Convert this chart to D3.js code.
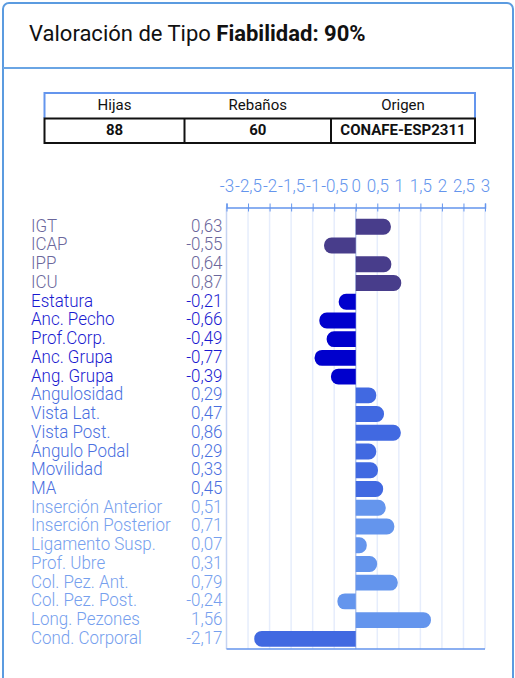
<!DOCTYPE html>
<html>
<head>
<meta charset="utf-8">
<script src="https://cdn.jsdelivr.net/npm/d3@7"></script>
<style>
  html, body { margin: 0; padding: 0; background: #fff; }
  svg { display: block; font-family: Roboto, "Noto Sans", sans-serif; }
</style>
</head>
<body>
<script>
// Data
var categories = ["IGT", "ICAP", "IPP", "ICU", "Estatura", "Anc. Pecho", "Prof.Corp.", "Anc. Grupa",
    "Ang. Grupa", "Angulosidad", "Vista Lat.", "Vista Post.", "Ángulo  Podal", "Movilidad", "MA",
    "Inserción Anterior", "Inserción Posterior", "Ligamento Susp.", "Prof. Ubre", "Col. Pez. Ant.",
    "Col. Pez. Post.", "Long. Pezones", "Cond. Corporal"];
var values = [0.63, -0.55, 0.64, 0.87, -0.21, -0.66, -0.49, -0.77, -0.39, 0.29, 0.47, 0.86, 0.29,
    0.33, 0.45, 0.51, 0.71, 0.07, 0.31, 0.79, -0.24, 1.56, -2.17];
// colour group of every row (bars)
var barGroup = [0, 0, 0, 0, 1, 1, 1, 1, 1, 2, 2, 2, 2, 2, 2, 3, 3, 3, 3, 3, 3, 3, 2];
// colour group of every row (labels)
var labelGroup = [0, 0, 0, 0, 1, 1, 1, 1, 1, 2, 2, 2, 2, 2, 2, 3, 3, 3, 3, 3, 3, 3, 3];
var groupColors = ["#483d8b", "#0000cd", "#4169e1", "#6495ed"];
var labelColors = ["#6b679c", "#1a1ad0", "#4a6fe0", "#76a0ee"];
var xTicks = [-3, -2.5, -2, -1.5, -1, -0.5, 0, 0.5, 1, 1.5, 2, 2.5, 3];

var tableHead = ["Hijas", "Rebaños", "Origen"];
var tableValues = ["88", "60", "CONAFE-ESP2311"];

var width = 515, height = 678;
var comma = function (v) { return String(v).replace(".", ","); };
var fmt2 = function (v) { return v.toFixed(2).replace(".", ","); };
var sx = 0.92; // the axis labels use a slightly narrow face
var lsx = 0.97;

var svg = d3.select("body").append("svg")
    .attr("width", width)
    .attr("height", height);

// card
svg.append("rect")
    .attr("x", 3).attr("y", 3)
    .attr("width", 510).attr("height", 720)
    .attr("rx", 6)
    .attr("fill", "#fff")
    .attr("stroke", "#5b9be0")
    .attr("stroke-width", 2);

svg.append("line")
    .attr("x1", 3).attr("x2", 513)
    .attr("y1", 68).attr("y2", 68)
    .attr("stroke", "#6aa5e4")
    .attr("stroke-width", 2);

var title = svg.append("text")
    .attr("x", 29).attr("y", 41)
    .style("font-size", "22px")
    .style("fill", "#111");
title.append("tspan").text("Valoración de Tipo ");
title.append("tspan").style("font-weight", "bold").text("Fiabilidad: 90%");

// table
var colX = [44.5, 184.5, 331, 475];
var tbl = svg.append("g");
tableHead.forEach(function (h, i) {
    tbl.append("text")
        .attr("x", (colX[i] + colX[i + 1]) / 2).attr("y", 109.5)
        .attr("text-anchor", "middle")
        .style("font-size", "15px")
        .style("fill", "#111")
        .text(h);
    tbl.append("text")
        .attr("x", (colX[i] + colX[i + 1]) / 2).attr("y", 135)
        .attr("text-anchor", "middle")
        .style("font-size", "15px")
        .style("font-weight", "bold")
        .style("fill", "#111")
        .text(tableValues[i]);
});
tbl.append("path")
    .attr("d", "M" + colX[0] + ",118 V93 H" + colX[3] + " V118")
    .attr("fill", "none")
    .attr("stroke", "#6495ed")
    .attr("stroke-width", 2);
tbl.append("rect")
    .attr("x", colX[0]).attr("y", 118.5)
    .attr("width", colX[3] - colX[0]).attr("height", 24.5)
    .attr("fill", "none")
    .attr("stroke", "#111")
    .attr("stroke-width", 2);
[colX[1], colX[2]].forEach(function (cx) {
    tbl.append("line")
        .attr("x1", cx).attr("x2", cx)
        .attr("y1", 118.5).attr("y2", 143)
        .attr("stroke", "#111")
        .attr("stroke-width", 2);
});

// chart
var plotTop = 207.5, plotBottom = 649;
var x = d3.scaleLinear().domain([-3, 3]).range([226.5, 485]);
var y = d3.scaleBand().domain(categories).range([218.8, 646.8]).paddingInner(0.15).paddingOuter(0);

// grid
svg.append("g")
    .selectAll("line")
    .data(xTicks)
    .join("line")
    .attr("x1", d => x(d)).attr("x2", d => x(d))
    .attr("y1", plotTop).attr("y2", plotBottom)
    .attr("stroke", d => d === 0 ? "#b9c9ec" : (d === -3 ? "#c6d4f2" : "#e6edfc"))
    .attr("stroke-width", 1.5);

// top axis
var axis = svg.append("g")
    .attr("transform", "translate(0," + plotTop + ")")
    .call(d3.axisTop(x).tickValues(xTicks).tickSizeInner(4).tickSizeOuter(4).tickPadding(12).tickFormat(comma));
axis.select(".domain").attr("stroke", "#6495ed").attr("stroke-width", 1.5);
axis.selectAll(".tick line").attr("stroke", "#6495ed").attr("y2", -4).attr("y1", 4);
axis.selectAll(".tick text")
    .attr("fill", "#6495ed")
    .attr("transform", "scale(" + sx + ",1)")
    .style("font-family", "Roboto")
    .style("font-weight", 300)
    .style("font-size", "18.5px");

// bottom line
svg.append("line")
    .attr("x1", x(-3)).attr("x2", x(3))
    .attr("y1", plotBottom).attr("y2", plotBottom)
    .attr("stroke", "#6495ed")
    .attr("stroke-width", 1.5);

// bars with a rounded outer end
var bh = y.bandwidth(), ext = 8, r = 7.5;
function barPath(v, y0) {
    var x0 = x(0), x1 = x(v) + (v < 0 ? -ext : ext);
    var y1 = y0 + bh;
    if (v >= 0) {
        return "M" + x0 + "," + y0 + "H" + (x1 - r) +
            "A" + r + "," + r + " 0 0 1 " + x1 + "," + (y0 + r) +
            "V" + (y1 - r) +
            "A" + r + "," + r + " 0 0 1 " + (x1 - r) + "," + y1 +
            "H" + x0 + "Z";
    }
    return "M" + x0 + "," + y0 + "H" + (x1 + r) +
        "A" + r + "," + r + " 0 0 0 " + x1 + "," + (y0 + r) +
        "V" + (y1 - r) +
        "A" + r + "," + r + " 0 0 0 " + (x1 + r) + "," + y1 +
        "H" + x0 + "Z";
}
svg.append("g")
    .selectAll("path")
    .data(categories)
    .join("path")
    .attr("d", (d, i) => barPath(values[i], y(d)))
    .attr("fill", (d, i) => groupColors[barGroup[i]]);

// row labels and values
var lab = svg.append("g")
    .attr("transform", "scale(" + lsx + ",1)")
    .style("font-family", "Roboto")
    .style("font-weight", 300)
    .style("font-size", "17.5px");
lab.selectAll("text.name")
    .data(categories)
    .join("text")
    .attr("class", "name")
    .attr("x", 31 / lsx)
    .attr("y", d => y(d) + bh / 2 + 5)
    .attr("fill", (d, i) => labelColors[labelGroup[i]])
    .text(d => d);
lab.selectAll("text.val")
    .data(categories)
    .join("text")
    .attr("class", "val")
    .attr("x", 222.5 / lsx)
    .attr("y", d => y(d) + bh / 2 + 5)
    .attr("text-anchor", "end")
    .attr("fill", (d, i) => labelColors[labelGroup[i]])
    .text((d, i) => fmt2(values[i]));
</script>
</body>
</html>
